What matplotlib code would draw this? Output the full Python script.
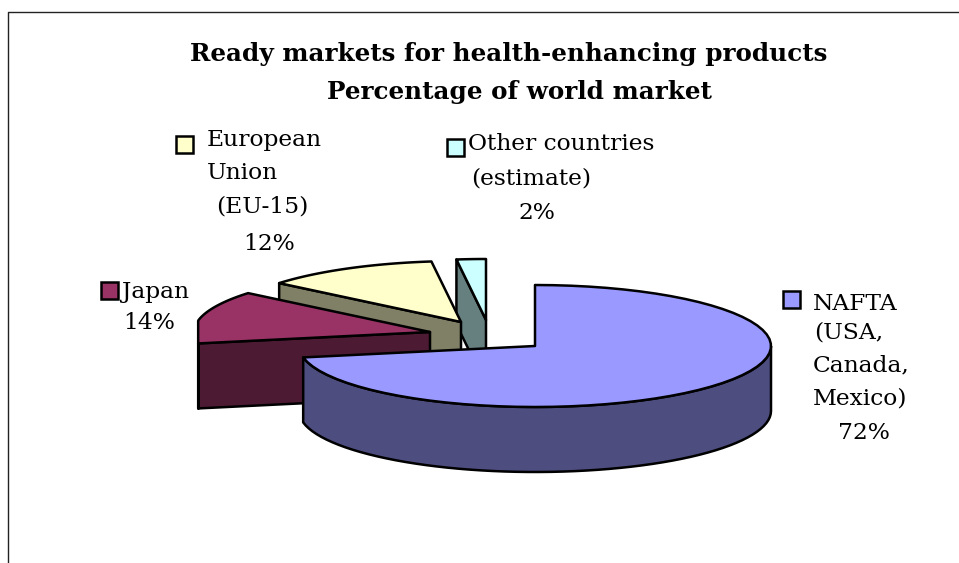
"""Exploded pseudo-3D pie: health-enhancing products, share of world market."""
import numpy as np
import matplotlib
matplotlib.use("Agg")
import matplotlib.pyplot as plt
from matplotlib.patches import Rectangle

plt.rcParams['font.family'] = ['DejaVu Serif']

TITLE_LINES = ["Ready markets for health-enhancing products", "Percentage of world market"]
NAMES = ["NAFTA", "Japan", "European Union", "Other countries"]
SHARES = [72, 14, 12, 2]
TOP_COLORS = ["#9999FF", "#993366", "#FFFFCC", "#CCFFFF"]
SIDE_COLORS = ["#4D4D80", "#4D1A33", "#808066", "#668080"]
LABEL_LINES = [
    ["NAFTA", "(USA,", "Canada,", "Mexico)", "72%"],
    ["Japan", "14%"],
    ["European", "Union", "(EU-15)", "12%"],
    ["Other countries", "(estimate)", "2%"],
]

# layout, in pixels
W, H = 959, 563
RX, RY, DEPTH = 236, 61, 65
APEX = [(535, 346), (430, 332), (461, 322), (486, 320)]
KEY_POS = [(783, 291), (101, 282), (176, 136), (447, 139)]
LABEL_POS = [
    [(813, 310), (814, 339), (813, 371), (813, 404), (838, 439)],
    [(122, 298), (123, 329)],
    [(207, 146), (207, 179), (216, 213), (243, 250)],
    [(468, 150), (471, 184), (518, 219)],
]
FS = 16.8


def rim(apex, a0, a1, n=60):
    t = np.radians(np.linspace(a0, a1, n))
    return apex[0] + RX * np.sin(t), apex[1] - RY * np.cos(t)


def main():
    fig = plt.figure(figsize=(W / 100, H / 100), dpi=100)
    ax = fig.add_axes([0, 0, 1, 1])
    ax.set_xlim(0, W)
    ax.set_ylim(H, 0)
    ax.axis("off")

    # chart frame, only top and left fall inside the crop
    ax.plot([8, 8, W], [H, 12, 12], color="#222222", lw=1.0)

    edges = np.cumsum([0] + SHARES) / sum(SHARES) * 360
    # back slices first so the big one sits on top
    for i in range(len(SHARES) - 1, -1, -1):
        a0, a1 = edges[i], edges[i + 1]
        apex = APEX[i]
        ex, ey = rim(apex, a0, a0, 1)
        # cut face at the start angle
        ax.fill([apex[0], ex[0], ex[0], apex[0]],
                [apex[1], ey[0], ey[0] + DEPTH, apex[1] + DEPTH],
                fc=SIDE_COLORS[i], ec="black", lw=1.8, joinstyle="round")
        # outer wall, only the front half shows
        w0, w1 = max(a0, 90), min(a1, 270)
        if w1 > w0:
            wx, wy = rim(apex, w0, w1)
            if a0 > 180:  # chart has the bulge flattened off on the left
                wx = np.maximum(wx, ex[0])
            ax.fill(np.r_[wx, wx[::-1]], np.r_[wy, wy[::-1] + DEPTH],
                    fc=SIDE_COLORS[i], ec="black", lw=1.8, joinstyle="round")
        tx, ty = rim(apex, a0, a1)
        if a0 > 180:
            tx = np.maximum(tx, ex[0])
        ax.fill(np.r_[apex[0], tx], np.r_[apex[1], ty],
                fc=TOP_COLORS[i], ec="black", lw=1.8, joinstyle="round")

    for i, (kx, ky) in enumerate(KEY_POS):
        ax.add_patch(Rectangle((kx, ky), 17, 17, fc=TOP_COLORS[i], ec="black", lw=1.8))
        for line, (lx, ly) in zip(LABEL_LINES[i], LABEL_POS[i]):
            ax.text(lx, ly, line, fontsize=FS, color="black", ha="left", va="baseline")

    ax.text(509, 61, TITLE_LINES[0], fontsize=17.7, fontweight="bold", ha="center", va="baseline")
    ax.text(519, 99, TITLE_LINES[1], fontsize=17.7, fontweight="bold", ha="center", va="baseline")

    fig.savefig("out.png", dpi=100)


if __name__ == "__main__":
    main()
